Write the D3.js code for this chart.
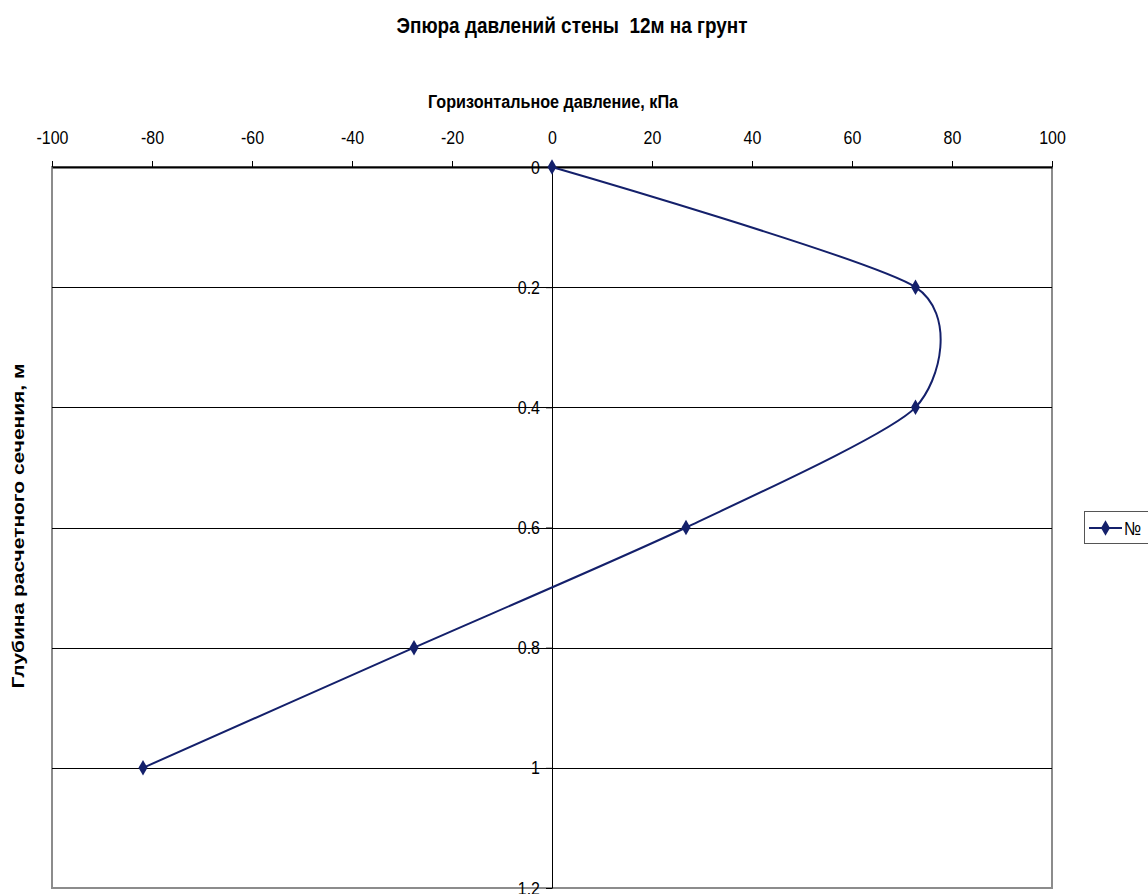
<!DOCTYPE html>
<html><head><meta charset="utf-8">
<script src="https://cdn.jsdelivr.net/npm/d3@7"></script>
<style>
body{margin:0;background:#fff;}
svg{display:block;font-family:"Liberation Sans",Arial,sans-serif;}
</style></head>
<body>
<svg id="chart" width="1148" height="894"></svg>
<script>
const titleText = "Эпюра давлений стены  12м на грунт";
const xTitle = "Горизонтальное давление, кПа";
const yTitle = "Глубина расчетного сечения, м";
const seriesName = "№";
const depth = [0, 0.2, 0.4, 0.6, 0.8, 1.0];
const pressure = [0, 72.7, 72.7, 26.8, -27.6, -81.8];
const xTicks = [-100, -80, -60, -40, -20, 0, 20, 40, 60, 80, 100];
const yTicks = [0, 0.2, 0.4, 0.6, 0.8, 1, 1.2];

const svg = d3.select("#chart");
const L = 52, R = 1052, T = 167, B = 888;
const x = d3.scaleLinear().domain([-100, 100]).range([L, R]);
const y = d3.scaleLinear().domain([0, 1.2]).range([T, B]);
const navy = "#14206b";

function narrow(sel, f) {
  sel.each(function () {
    const w = this.getComputedTextLength();
    d3.select(this).attr("textLength", w * f).attr("lengthAdjust", "spacingAndGlyphs");
  });
}

// plot border (gray)
svg.append("rect").attr("x", L).attr("y", T).attr("width", R - L).attr("height", B - T)
  .attr("fill", "none").attr("stroke", "#8c8c8c").attr("stroke-width", 2);

// gridlines
svg.append("g").selectAll("line").data(yTicks.filter(d => d > 0 && d < 1.2)).join("line")
  .attr("x1", L).attr("x2", R).attr("y1", d => Math.round(y(d)) + 0.5).attr("y2", d => Math.round(y(d)) + 0.5)
  .attr("stroke", "#000").attr("stroke-width", 1);

const fmt = d => String(d);

// top x axis
const xAxis = svg.append("g").attr("transform", `translate(0,${T})`)
  .call(d3.axisTop(x).tickValues(xTicks).tickSize(6).tickSizeOuter(0).tickPadding(17).tickFormat(fmt));
xAxis.select(".domain").attr("stroke", "#000").attr("stroke-width", 2);
xAxis.selectAll(".tick line").attr("stroke", "#000");
xAxis.selectAll("text").attr("font-size", 19).attr("fill", "#000").attr("font-family", null).call(narrow, 0.84);

// vertical axis at x=0
const yAxis = svg.append("g").attr("transform", `translate(${x(0)},0)`)
  .call(d3.axisLeft(y).tickValues(yTicks).tickSize(6).tickSizeOuter(0).tickPadding(6).tickFormat(fmt));
yAxis.select(".domain").attr("stroke", "#000").attr("stroke-width", 1);
yAxis.selectAll(".tick line").attr("stroke", "#000");
yAxis.selectAll("text").attr("font-size", 19).attr("fill", "#000").attr("font-family", null).call(narrow, 0.84);

// line
const pts = depth.map((d, i) => [pressure[i], d]);
svg.append("path").datum(pts)
  .attr("d", d3.line().x(d => x(d[0])).y(d => y(d[1])).curve(d3.curveCardinal.tension(0.33)))
  .attr("fill", "none").attr("stroke", navy).attr("stroke-width", 2);

// markers
const diamond = d3.symbol().type(d3.symbolDiamond).size(70);
svg.append("g").selectAll("path").data(pts).join("path")
  .attr("d", diamond).attr("transform", d => `translate(${x(d[0])},${y(d[1])})`)
  .attr("fill", navy);

// titles
svg.append("text").attr("x", 572).attr("y", 33).attr("text-anchor", "middle")
  .attr("font-size", 22).attr("font-weight", "bold").attr("xml:space", "preserve")
  .attr("textLength", 351).attr("lengthAdjust", "spacingAndGlyphs").text(titleText);
svg.append("text").attr("x", 553).attr("y", 108).attr("text-anchor", "middle")
  .attr("font-size", 18).attr("font-weight", "bold")
  .attr("textLength", 250).attr("lengthAdjust", "spacingAndGlyphs").text(xTitle);
svg.append("text").attr("transform", `translate(24,526) rotate(-90)`).attr("text-anchor", "middle")
  .attr("font-size", 17).attr("font-weight", "bold")
  .attr("textLength", 325).attr("lengthAdjust", "spacingAndGlyphs").text(yTitle);

// legend
const lg = svg.append("g");
lg.append("rect").attr("x", 1084.5).attr("y", 511.5).attr("width", 80).attr("height", 32)
  .attr("fill", "#fff").attr("stroke", "#555").attr("stroke-width", 1);
lg.append("line").attr("x1", 1089).attr("x2", 1122).attr("y1", 528).attr("y2", 528)
  .attr("stroke", navy).attr("stroke-width", 2);
lg.append("path").attr("d", diamond).attr("transform", "translate(1105.5,528)").attr("fill", navy);
lg.append("text").attr("x", 1124).attr("y", 535).attr("font-size", 19).text(seriesName).call(narrow, 0.84);
</script>
</body></html>
